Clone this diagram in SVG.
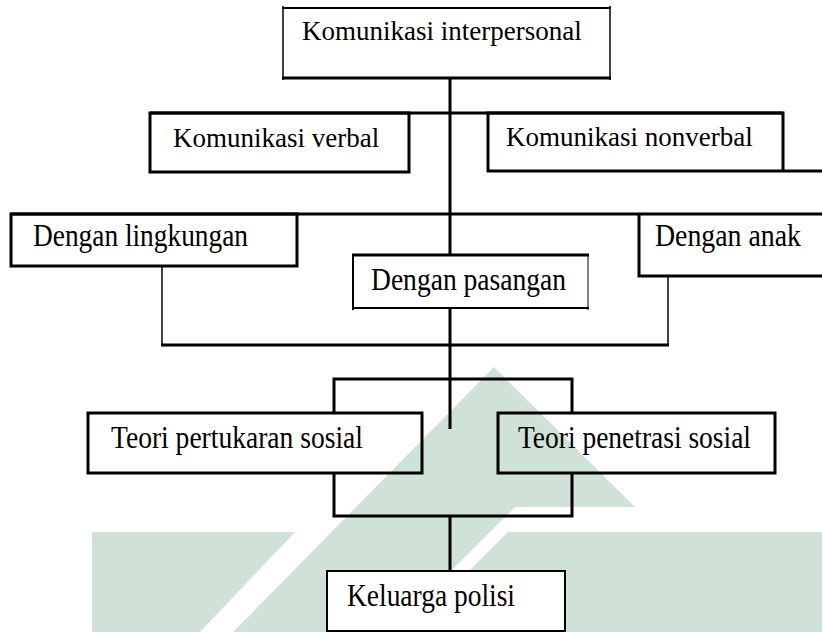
<svg xmlns="http://www.w3.org/2000/svg" width="822" height="632" viewBox="0 0 822 632">
<style>
text{font-family:"Liberation Serif","Times New Roman",serif;font-size:27px;fill:#000}
text.c{font-size:31px}
.b{fill:none;stroke:#000;stroke-width:3}
.t{fill:none;stroke:#000;stroke-width:1.5}
.w{fill:#d0e1d7}
</style>
<rect width="822" height="632" fill="#fff"/>
<g id="watermark">
<polygon class="w" points="494,367 635,507 515,507 390,632 233,632"/>
<polygon class="w" points="92,532 295,532 200,632 92,632"/>
<polygon class="w" points="508,532 822,532 822,632 408,632"/>
</g>
<g id="connectors">
<line class="b" x1="450" y1="78" x2="450" y2="255"/>
<line class="b" x1="150" y1="113" x2="783" y2="113"/>
<line class="b" x1="11" y1="214" x2="822" y2="214"/>
<line class="t" x1="162" y1="266" x2="162" y2="345"/>
<line class="t" x1="668" y1="276" x2="668" y2="345"/>
<line class="b" x1="161" y1="345" x2="669" y2="345"/>
<line class="b" x1="450" y1="308" x2="450" y2="429"/>
<polyline class="b" points="334,413 334,379 572,379 572,413"/>
<polyline class="b" points="334,473 334,516 572,516 572,473"/>
<line class="b" x1="450" y1="516" x2="450" y2="571"/>
</g>
<g id="n-interpersonal">
<line class="b" x1="282" y1="8" x2="611" y2="8" style="stroke-width:2"/>
<line class="t" x1="283" y1="6" x2="283" y2="80"/>
<line class="t" x1="610" y1="6" x2="610" y2="80"/>
<line class="b" x1="282" y1="78" x2="611" y2="78"/>
<text x="302" y="40">Komunikasi interpersonal</text>
</g>
<g id="n-verbal">
<rect class="b" x="150" y="113" width="259" height="59"/>
<text x="173" y="147">Komunikasi verbal</text>
</g>
<g id="n-nonverbal">
<polyline class="b" points="488,172 488,113 783,113 783,171"/>
<line class="b" x1="487" y1="171" x2="822" y2="171"/>
<text x="506" y="146">Komunikasi nonverbal</text>
</g>
<g id="n-lingkungan">
<rect class="b" x="11" y="214" width="286" height="52"/>
<text class="c" x="33" y="246" textLength="215" lengthAdjust="spacingAndGlyphs">Dengan lingkungan</text>
</g>
<g id="n-pasangan">
<rect x="353" y="255" width="235" height="53" fill="#fff"/>
<line class="b" x1="352" y1="255" x2="589" y2="255"/>
<line class="t" x1="353" y1="254" x2="353" y2="310" style="stroke-width:2"/>
<line class="t" x1="588" y1="254" x2="588" y2="310" style="stroke-width:1"/>
<line class="t" x1="352" y1="308" x2="589" y2="308" style="stroke-width:2"/>
<text class="c" x="371" y="290" textLength="195" lengthAdjust="spacingAndGlyphs">Dengan pasangan</text>
</g>
<g id="n-anak">
<polyline class="b" points="639,214 639,276 822,276"/>
<text class="c" x="655" y="246" textLength="146" lengthAdjust="spacingAndGlyphs">Dengan anak</text>
</g>
<g id="n-pertukaran">
<rect class="b" x="88" y="413" width="334" height="60"/>
<text class="c" x="111" y="448" textLength="252" lengthAdjust="spacingAndGlyphs">Teori pertukaran sosial</text>
</g>
<g id="n-penetrasi">
<rect class="b" x="498" y="413" width="277" height="60"/>
<text class="c" x="518" y="448" textLength="233" lengthAdjust="spacingAndGlyphs">Teori penetrasi sosial</text>
</g>
<g id="n-keluarga">
<rect x="327" y="571" width="238" height="60" fill="#fff" stroke="#000" stroke-width="2"/>
<text class="c" x="347" y="606" textLength="168" lengthAdjust="spacingAndGlyphs">Keluarga polisi</text>
</g>
</svg>
